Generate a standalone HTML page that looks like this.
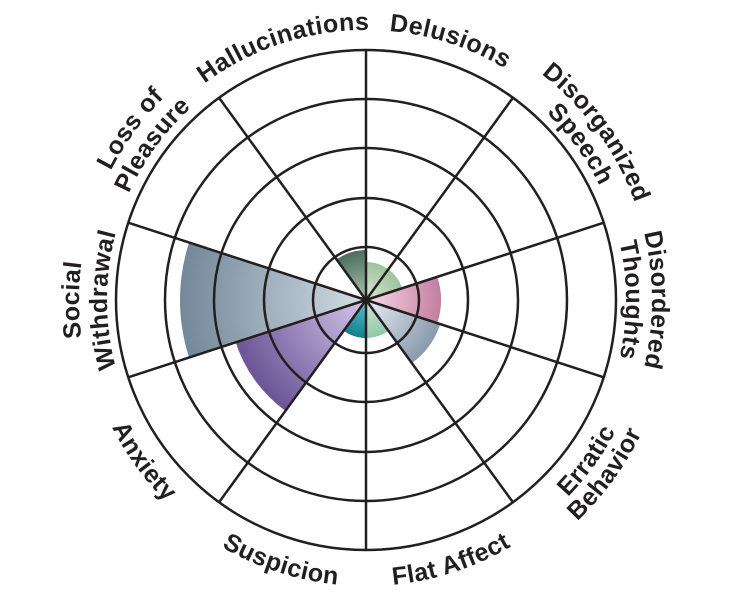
<!DOCTYPE html>
<html><head><meta charset="utf-8"><style>
html,body{margin:0;padding:0;background:#fff;width:732px;height:600px;overflow:hidden}
svg{display:block}
text{font-family:"Liberation Sans",sans-serif;font-weight:bold;font-size:25px;letter-spacing:0.4px;fill:#231f20}
</style></head><body>
<svg id="s" width="732" height="600" viewBox="0 0 732 600">
<defs>
<radialGradient id="gSoc" gradientUnits="userSpaceOnUse" cx="366" cy="300" r="186"><stop offset="0" stop-color="#d4dee4"/><stop offset="1" stop-color="#73889a"/></radialGradient>
<radialGradient id="gAnx" gradientUnits="userSpaceOnUse" cx="366" cy="300" r="137"><stop offset="0" stop-color="#d2c6ea"/><stop offset="1" stop-color="#6c5496"/></radialGradient>
<radialGradient id="gPink" gradientUnits="userSpaceOnUse" cx="366" cy="300" r="75"><stop offset="0" stop-color="#f8dcec"/><stop offset="1" stop-color="#c47e9e"/></radialGradient>
<radialGradient id="gErr" gradientUnits="userSpaceOnUse" cx="366" cy="300" r="78"><stop offset="0" stop-color="#e6eef4"/><stop offset="1" stop-color="#8a9aab"/></radialGradient>
<radialGradient id="gHal" gradientUnits="userSpaceOnUse" cx="366" cy="300" r="50"><stop offset="0" stop-color="#a8c6b2"/><stop offset="1" stop-color="#4d6e5c"/></radialGradient>
<radialGradient id="gDel" gradientUnits="userSpaceOnUse" cx="366" cy="300" r="38"><stop offset="0" stop-color="#d8e8d2"/><stop offset="1" stop-color="#9fc29c"/></radialGradient>
<radialGradient id="gFlat" gradientUnits="userSpaceOnUse" cx="366" cy="300" r="38"><stop offset="0" stop-color="#cde8d6"/><stop offset="1" stop-color="#92c8a6"/></radialGradient>
<radialGradient id="gTeal" gradientUnits="userSpaceOnUse" cx="366" cy="300" r="38"><stop offset="0" stop-color="#5cc0cc"/><stop offset="1" stop-color="#13808f"/></radialGradient>
</defs>
<g id="wedges"></g>
<g id="grid" fill="none" stroke="#231f20" stroke-width="2.5"></g>
<g id="paths" fill="none"></g>
<text><textPath href="#p0" startOffset="50%" text-anchor="middle">Hallucinations</textPath></text>
<text><textPath href="#p1" startOffset="50%" text-anchor="middle">Delusions</textPath></text>
<text><textPath href="#p2" startOffset="50%" text-anchor="middle">Disorganized</textPath></text>
<text><textPath href="#p3" startOffset="50%" text-anchor="middle">Speech</textPath></text>
<text><textPath href="#p4" startOffset="50%" text-anchor="middle">Disordered</textPath></text>
<text><textPath href="#p5" startOffset="50%" text-anchor="middle">Thoughts</textPath></text>
<text><textPath href="#p6" startOffset="50%" text-anchor="middle">Erratic</textPath></text>
<text><textPath href="#p7" startOffset="50%" text-anchor="middle">Behavior</textPath></text>
<text><textPath href="#p8" startOffset="50%" text-anchor="middle">Flat Affect</textPath></text>
<text><textPath href="#p9" startOffset="50%" text-anchor="middle">Suspicion</textPath></text>
<text><textPath href="#p10" startOffset="50%" text-anchor="middle">Anxiety</textPath></text>
<text><textPath href="#p11" startOffset="50%" text-anchor="middle">Social</textPath></text>
<text><textPath href="#p12" startOffset="50%" text-anchor="middle">Withdrawal</textPath></text>
<text><textPath href="#p13" startOffset="50%" text-anchor="middle">Loss of</textPath></text>
<text><textPath href="#p14" startOffset="50%" text-anchor="middle">Pleasure</textPath></text>
</svg>
<script>
var NS="http://www.w3.org/2000/svg",cx=366,cy=300;
function pt(r,a){a=a*Math.PI/180;return [cx+r*Math.sin(a),cy-r*Math.cos(a)];}
function el(t,at,par){var e=document.createElementNS(NS,t);for(var k in at)e.setAttribute(k,at[k]);document.getElementById(par).appendChild(e);return e;}
var W=[[0,72,38,"gDel"],[72,108,75,"gPink"],[108,144,78,"gErr"],[144,180,38,"gFlat"],[180,216,38,"gTeal"],[216,252,137,"gAnx"],[252,288,186,"gSoc"],[324,360,50,"gHal"]];
W.forEach(function(w){var a=pt(w[2],w[0]),b=pt(w[2],w[1]);var lg=(w[1]-w[0])>180?1:0;
el("path",{d:"M"+cx+","+cy+"L"+a[0]+","+a[1]+"A"+w[2]+","+w[2]+" 0 "+lg+" 1 "+b[0]+","+b[1]+"Z",fill:"url(#"+w[3]+")"},"wedges");});
[53,102,152,201,250].forEach(function(r){el("circle",{cx:cx,cy:cy,r:r},"grid");});
for(var i=0;i<10;i++){var p=pt(250,i*36);el("line",{x1:cx,y1:cy,x2:p[0],y2:p[1]},"grid");}
el("circle",{cx:cx,cy:cy,r:3,fill:"#231f20",stroke:"none"},"grid");
function arc(id,r,th,cw){var s,e;if(cw){s=pt(r,th-70);e=pt(r,th+70);}else{s=pt(r,th+70);e=pt(r,th-70);}
el("path",{id:id,d:"M"+s[0]+","+s[1]+"A"+r+","+r+" 0 0 "+(cw?1:0)+" "+e[0]+","+e[1]},"paths");}
arc("p0",270,342,1);arc("p1",270,18,1);
arc("p2",286,54,1);arc("p3",260,54,1);
arc("p4",286,90,1);arc("p5",260,90,1);
arc("p6",282,126,0);arc("p7",306,126,0);
arc("p8",286,162,0);arc("p9",286,198,0);arc("p10",284,234,0);
arc("p11",287,270,1);arc("p12",259,270,1);
arc("p13",286,306,1);arc("p14",260,306,1);
</script>
</body></html>
